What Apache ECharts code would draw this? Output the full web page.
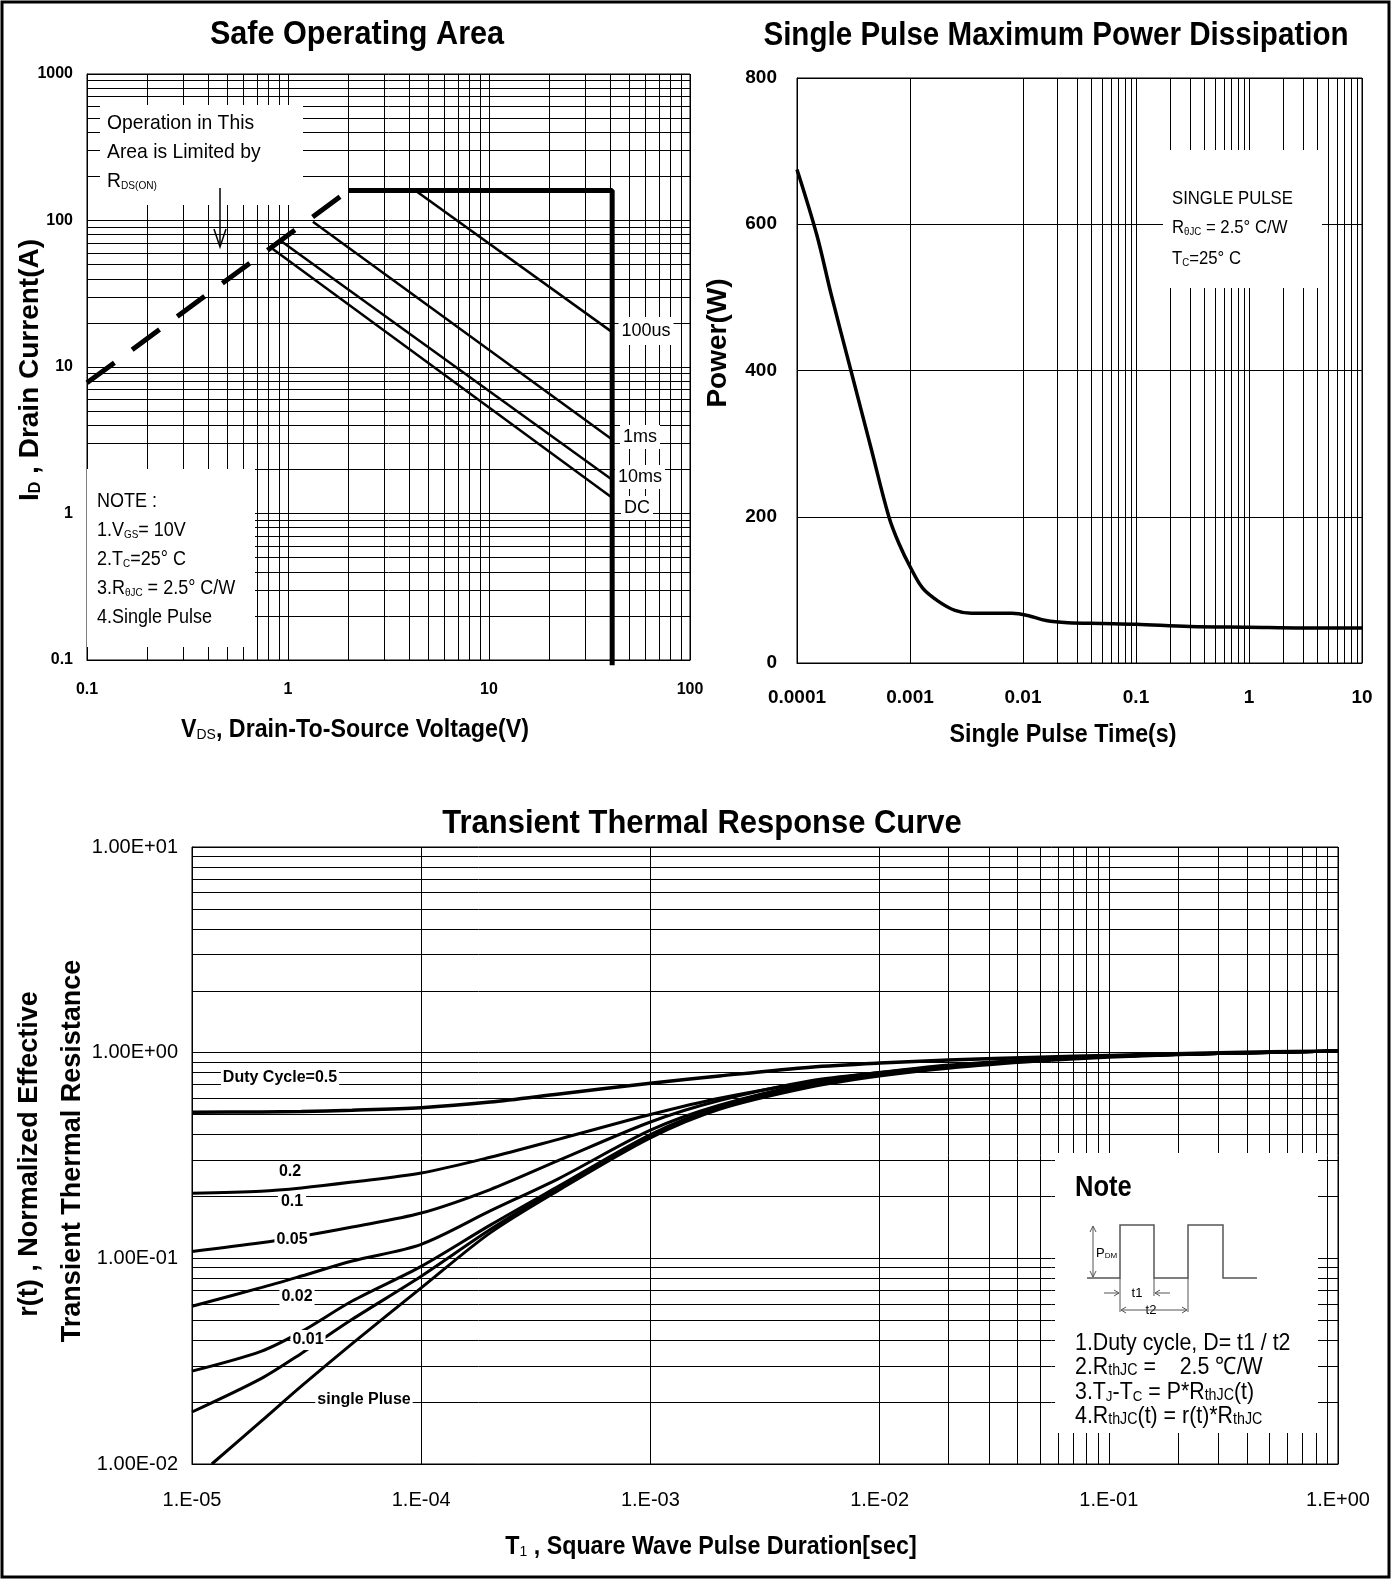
<!DOCTYPE html>
<html>
<head>
<meta charset="utf-8">
<script src="https://cdn.jsdelivr.net/npm/echarts@6/dist/echarts.min.js"></script>
<style>
  html, body { margin: 0; padding: 0; background: #fff; }
  #chart { width: 1392px; height: 1580px; }
</style>
</head>
<body>
<div id="chart"></div>
<script>
// ---- Safe Operating Area (V, A) ----
var soaRds = [[0.1, 7.8], [2.0, 160]];
var soaLimit = [[2.0, 160], [41, 160], [41, 0.092]];
var soa100us = [[4.3, 160], [41, 17.3]];
var soa1ms = [[1.33, 98], [41, 3.2]];
var soa10ms = [[0.93, 72], [41, 1.7]];
var soaDC = [[0.84, 64], [41, 1.28]];

// ---- Single pulse power (s, W) ----
var powerT = [1e-4, 1.5e-4, 2e-4, 3e-4, 4.5e-4, 6.5e-4, 8e-4, 1e-3, 1.3e-3, 1.8e-3, 2.5e-3, 3.5e-3, 5e-3, 8e-3, 1.1e-2, 1.6e-2, 2.5e-2, 5e-2, 0.1, 0.3, 1, 3, 10];
var powerW = [675, 585, 505, 400, 295, 200, 163, 132, 102, 84, 72, 68, 68, 68, 65, 58, 55, 54, 53, 50, 49, 48, 48];

// ---- Transient thermal response (s, r(t)) ----
var thermT = [1e-5, 2e-5, 3e-5, 5e-5, 1e-4, 2e-4, 4e-4, 1e-3, 2e-3, 5e-3, 1e-2, 2e-2, 5e-2, 1e-1, 3e-1, 1];
var duty05 = [0.513, 0.515, 0.518, 0.525, 0.54, 0.575, 0.63, 0.71, 0.77, 0.85, 0.89, 0.92, 0.95, 0.97, 1.0, 1.02];
var duty02 = [0.207, 0.212, 0.22, 0.235, 0.26, 0.31, 0.38, 0.50, 0.60, 0.72, 0.80, 0.87, 0.93, 0.96, 0.99, 1.02];
var duty01 = [0.108, 0.119, 0.128, 0.142, 0.166, 0.216, 0.30, 0.46, 0.585, 0.73, 0.80, 0.86, 0.92, 0.96, 0.99, 1.02];
var duty005 = [0.0585, 0.072, 0.082, 0.097, 0.117, 0.17, 0.245, 0.42, 0.555, 0.71, 0.79, 0.86, 0.92, 0.96, 0.99, 1.02];
var duty002 = [0.0283, 0.0353, 0.044, 0.062, 0.0914, 0.145, 0.225, 0.40, 0.545, 0.70, 0.785, 0.855, 0.92, 0.96, 0.99, 1.02];
var duty001 = [0.0179, 0.026, 0.0345, 0.0505, 0.0818, 0.138, 0.22, 0.39, 0.54, 0.69, 0.78, 0.85, 0.92, 0.96, 0.99, 1.02];
var singleT = [1.22e-5, 2e-5, 3e-5, 5e-5, 1e-4, 2e-4, 4e-4, 1e-3, 2e-3, 5e-3, 1e-2, 2e-2, 5e-2, 1e-1, 3e-1, 1];
var singleR = [0.01, 0.0161, 0.0239, 0.0385, 0.0718, 0.133, 0.215, 0.385, 0.53, 0.68, 0.77, 0.84, 0.91, 0.95, 0.99, 1.02];

var FONT = "'Liberation Sans Narrow','Arial Narrow','Liberation Sans',Arial,sans-serif";

function zip(xs, ys) {
  return xs.map(function (x, i) { return [x, ys[i]]; });
}

// 2..9 lines inside each decade
function minorVals(lo, hi) {
  var out = [];
  for (var d = lo; d < hi * 0.999; d *= 10) {
    for (var k = 2; k <= 9; k++) out.push(+(d * k).toPrecision(3));
  }
  return out;
}

function gridLines(xs, ys) {
  var data = [];
  xs.forEach(function (v) { data.push({ xAxis: v }); });
  ys.forEach(function (v) { data.push({ yAxis: v }); });
  return {
    silent: true,
    symbol: ['none', 'none'],
    label: { show: false },
    emphasis: { disabled: true },
    lineStyle: { type: 'solid', color: '#000', width: 1 },
    data: data
  };
}

function fmtPlain(v) { return String(+v.toPrecision(3)); }
function fmtE(v, digits) {
  var e = Math.round(Math.log10(v));
  var s = (e < 0 ? '-' : '+') + (Math.abs(e) < 10 ? '0' : '') + Math.abs(e);
  return digits ? '1.00E' + s : '1.E' + s;
}

function txt(x, y, text, o) {
  o = o || {};
  return {
    type: 'text', x: x, y: y, z: 100, rotation: o.rot || 0,
    scaleX: o.sx || 1, silent: true,
    style: {
      text: text,
      fill: '#000',
      fontSize: o.size || 18,
      fontFamily: FONT,
      fontWeight: o.weight || 'normal',
      align: o.align || 'left', textAlign: o.align || 'left',
      verticalAlign: 'middle', textVerticalAlign: 'middle',
      backgroundColor: o.bg,
      padding: o.pad,
      rich: o.rich
    }
  };
}
function box(x, y, w, h) {
  return { type: 'rect', z: 99, silent: true, shape: { x: x, y: y, width: w, height: h }, style: { fill: '#fff' } };
}
function poly(pts, w, c) {
  return { type: 'polyline', z: 101, silent: true, shape: { points: pts }, style: { stroke: c || '#000', lineWidth: w || 1, fill: null } };
}
function sub(size, weight) {
  return { fontSize: size, fontFamily: FONT, fontWeight: weight || 'normal', verticalAlign: 'bottom', lineHeight: 14 };
}
function base(size, weight) {
  return { fontSize: size, fontFamily: FONT, fontWeight: weight || 'normal' };
}

function lineSeries(xi, data, width, extra) {
  var s = {
    type: 'line', xAxisIndex: xi, yAxisIndex: xi, data: data,
    symbol: 'none', silent: true,
    lineStyle: { color: '#000', width: width }
  };
  for (var k in extra) s[k] = extra[k];
  return s;
}

function ax(o) {
  var a = {
    axisLine: { show: true, lineStyle: { color: '#000', width: 1 } },
    axisTick: { show: false },
    splitLine: { show: true, lineStyle: { color: '#000', width: 1 } }
  };
  for (var k in o) a[k] = o[k];
  return a;
}
function lbl(size, weight, margin, fmt) {
  return { formatter: fmt, color: '#000', fontSize: size, fontWeight: weight, fontFamily: FONT, margin: margin, showMinLabel: true, showMaxLabel: true };
}

var chart = echarts.init(document.getElementById('chart'), null, { renderer: 'canvas' });

var option = {
  animation: false,
  backgroundColor: '#fff',
  grid: [
    { left: 87, top: 74, width: 603, height: 586, show: true, borderColor: '#000', borderWidth: 1 },
    { left: 797, top: 78, width: 565, height: 585, show: true, borderColor: '#000', borderWidth: 1 },
    { left: 192, top: 847, width: 1146, height: 617, show: true, borderColor: '#000', borderWidth: 1 }
  ],
  xAxis: [
    ax({ type: 'log', logBase: 10, gridIndex: 0, min: 0.1, max: 100, axisLabel: lbl(16, 'bold', 22, fmtPlain) }),
    ax({ type: 'log', logBase: 10, gridIndex: 1, min: 0.0001, max: 10, axisLabel: lbl(19, 'bold', 25, fmtPlain) }),
    ax({ type: 'log', logBase: 10, gridIndex: 2, min: 0.00001, max: 1,
      axisLabel: lbl(20, 'normal', 26, function (v) { return fmtE(v, false); }) })
  ],
  yAxis: [
    ax({ type: 'log', logBase: 10, gridIndex: 0, min: 0.1, max: 1000, axisLabel: lbl(16, 'bold', 14, fmtPlain) }),
    ax({ type: 'value', gridIndex: 1, min: 0, max: 800, interval: 200, axisLabel: lbl(19, 'bold', 20) }),
    ax({ type: 'log', logBase: 10, gridIndex: 2, min: 0.01, max: 10,
      axisLabel: lbl(20, 'normal', 14, function (v) { return fmtE(v, true); }) })
  ],
  series: [
    // SOA
    lineSeries(0, soaRds, 5, { lineStyle: { color: '#000', width: 5, type: [34, 22] },
      markLine: gridLines(minorVals(0.1, 100), minorVals(0.1, 1000)) }),
    lineSeries(0, soaLimit, 5, { clip: false }),
    lineSeries(0, soa100us, 2.5),
    lineSeries(0, soa1ms, 2.5),
    lineSeries(0, soa10ms, 2.5),
    lineSeries(0, soaDC, 2.5),
    // Power
    lineSeries(1, zip(powerT, powerW), 3.5, { smooth: 0.35,
      markLine: gridLines(minorVals(0.0001, 10), []) }),
    // Transient
    lineSeries(2, zip(thermT, duty05), 3.5, { smooth: 0.3,
      markLine: gridLines(minorVals(0.00001, 1), minorVals(0.01, 10)) }),
    lineSeries(2, zip(thermT, duty02), 3, { smooth: 0.3 }),
    lineSeries(2, zip(thermT, duty01), 3, { smooth: 0.3 }),
    lineSeries(2, zip(thermT, duty005), 3, { smooth: 0.3 }),
    lineSeries(2, zip(thermT, duty002), 3, { smooth: 0.3 }),
    lineSeries(2, zip(thermT, duty001), 3, { smooth: 0.3 }),
    lineSeries(2, zip(singleT, singleR), 3, { smooth: 0.3 })
  ],
  graphic: { elements: [] }
};

var G = option.graphic.elements;

// frame
G.push({ type: 'rect', z: 120, silent: true, shape: { x: 2, y: 2, width: 1387, height: 1575 }, style: { fill: null, stroke: '#000', lineWidth: 3 } });

// titles
G.push(txt(357, 35, 'Safe Operating Area', { size: 34, weight: 'bold', align: 'center', sx: 0.9 }));
G.push(txt(1056, 36, 'Single Pulse Maximum Power Dissipation', { size: 34, weight: 'bold', align: 'center', sx: 0.87 }));
G.push(txt(702, 824, 'Transient Thermal Response Curve', { size: 34, weight: 'bold', align: 'center', sx: 0.91 }));

// axis titles
G.push(txt(30, 370, '{b|I}{s|D}{b| , Drain Current(A)}', { size: 28, weight: 'bold', align: 'center', rot: Math.PI / 2,
  rich: { b: base(28, 'bold'), s: sub(16, 'bold') } }));
G.push(txt(355, 730, '{b|V}{s|DS}{b|, Drain-To-Source Voltage(V)}', { size: 25, weight: 'bold', align: 'center', sx: 0.93,
  rich: { b: base(25, 'bold'), s: sub(15) } }));
G.push(txt(718, 343, 'Power(W)', { size: 28, weight: 'bold', align: 'center', rot: Math.PI / 2 }));
G.push(txt(1063, 735, 'Single Pulse Time(s)', { size: 25, weight: 'bold', align: 'center', sx: 0.93 }));
G.push(txt(711, 1547, '{b|T}{s|1}{b| , Square Wave Pulse Duration[sec]}', { size: 25, weight: 'bold', align: 'center', sx: 0.93,
  rich: { b: base(25, 'bold'), s: sub(15) } }));
G.push(txt(30, 1154, 'r(t) , Normalized Effective', { size: 27, weight: 'bold', align: 'center', rot: Math.PI / 2 }));
G.push(txt(73, 1151, 'Transient Thermal Resistance', { size: 27, weight: 'bold', align: 'center', rot: Math.PI / 2 }));

// SOA annotation: RDS(ON) limit
G.push(box(100, 105, 203, 100));
G.push(txt(107, 123, 'Operation in This', { size: 21, sx: 0.92 }));
G.push(txt(107, 152, 'Area is Limited by', { size: 21, sx: 0.92 }));
G.push(txt(107, 181, '{b|R}{s|DS(ON)}', { size: 21, sx: 0.92, rich: { b: base(21), s: sub(11) } }));
G.push(poly([[220, 188], [220, 246]], 1.5));
G.push(poly([[214, 229], [220, 247], [226, 229]], 1.5));

// SOA note
G.push(box(87, 469, 168, 178));
G.push(txt(97, 501, 'NOTE :', { size: 20, sx: 0.9 }));
G.push(txt(97, 530, '{b|1.V}{s|GS}{b|= 10V}', { size: 20, sx: 0.9, rich: { b: base(20), s: sub(11) } }));
G.push(txt(97, 559, '{b|2.T}{s|C}{b|=25° C}', { size: 20, sx: 0.9, rich: { b: base(20), s: sub(11) } }));
G.push(txt(97, 588, '{b|3.R}{s|θJC}{b| = 2.5° C/W}', { size: 20, sx: 0.9, rich: { b: base(20), s: sub(11) } }));
G.push(txt(97, 617, '4.Single Pulse', { size: 20, sx: 0.9 }));

// SOA curve labels
G.push(txt(646, 331, '100us', { size: 18, align: 'center', bg: '#fff', pad: [5, 3] }));
G.push(txt(640, 437, '1ms', { size: 18, align: 'center', bg: '#fff', pad: [3, 3] }));
G.push(txt(640, 477, '10ms', { size: 18, align: 'center', bg: '#fff', pad: [3, 3] }));
G.push(txt(637, 508, 'DC', { size: 18, align: 'center', bg: '#fff', pad: [3, 3] }));

// Power annotation
G.push(box(1163, 150, 159, 138));
G.push(txt(1172, 199, 'SINGLE PULSE', { size: 19, sx: 0.88 }));
G.push(txt(1172, 228, '{b|R}{s|θJC}{b| = 2.5° C/W}', { size: 19, sx: 0.88, rich: { b: base(19), s: sub(11) } }));
G.push(txt(1172, 259, '{b|T}{s|C}{b|=25° C}', { size: 19, sx: 0.88, rich: { b: base(19), s: sub(11) } }));

// Transient curve labels
G.push(txt(280, 1078, 'Duty Cycle=0.5', { size: 16, weight: 'bold', align: 'center', bg: '#fff', pad: [2, 2] }));
G.push(txt(290, 1172, '0.2', { size: 16, weight: 'bold', align: 'center', bg: '#fff', pad: [2, 3] }));
G.push(txt(292, 1202, '0.1', { size: 16, weight: 'bold', align: 'center', bg: '#fff', pad: [2, 3] }));
G.push(txt(292, 1240, '0.05', { size: 16, weight: 'bold', align: 'center', bg: '#fff', pad: [2, 2] }));
G.push(txt(297, 1297, '0.02', { size: 16, weight: 'bold', align: 'center', bg: '#fff', pad: [2, 2] }));
G.push(txt(308, 1340, '0.01', { size: 16, weight: 'bold', align: 'center', bg: '#fff', pad: [2, 2] }));
G.push(txt(364, 1400, 'single Pluse', { size: 16, weight: 'bold', align: 'center', bg: '#fff', pad: [2, 2] }));

// Transient note box
G.push(box(1055, 1153, 263, 280));
G.push(txt(1075, 1188, 'Note', { size: 29, weight: 'bold', sx: 0.88 }));
G.push(poly([[1087, 1278], [1120, 1278], [1120, 1225], [1154, 1225], [1154, 1278], [1188, 1278], [1188, 1225], [1223, 1225], [1223, 1278], [1257, 1278]], 1.5, '#555'));
G.push(poly([[1093, 1226], [1093, 1277]], 1, '#555'));
G.push(poly([[1090, 1232], [1093, 1226], [1096, 1232]], 1, '#555'));
G.push(poly([[1090, 1271], [1093, 1277], [1096, 1271]], 1, '#555'));
G.push(txt(1096, 1253, '{b|P}{s|DM}', { size: 13, rich: { b: base(13), s: sub(8) } }));
G.push(poly([[1120, 1278], [1120, 1312]], 1, '#555'));
G.push(poly([[1154, 1278], [1154, 1296]], 1, '#555'));
G.push(poly([[1188, 1278], [1188, 1312]], 1, '#555'));
G.push(poly([[1104, 1293], [1119, 1293]], 1, '#555'));
G.push(poly([[1114, 1290], [1119, 1293], [1114, 1296]], 1, '#555'));
G.push(poly([[1155, 1293], [1170, 1293]], 1, '#555'));
G.push(poly([[1160, 1290], [1155, 1293], [1160, 1296]], 1, '#555'));
G.push(txt(1137, 1293, 't1', { size: 13, align: 'center' }));
G.push(poly([[1121, 1310], [1187, 1310]], 1, '#555'));
G.push(poly([[1126, 1307], [1121, 1310], [1126, 1313]], 1, '#555'));
G.push(poly([[1182, 1307], [1187, 1310], [1182, 1313]], 1, '#555'));
G.push(txt(1151, 1310, 't2', { size: 13, align: 'center', bg: '#fff', pad: [0, 3] }));
G.push(txt(1075, 1343, '1.Duty cycle, D= t1 / t2', { size: 24, sx: 0.89 }));
G.push(txt(1075, 1367, '{b|2.R}{m|thJC}{b| =    2.5 ℃/W}', { size: 24, sx: 0.89, rich: { b: base(24), m: sub(16) } }));
G.push(txt(1075, 1392, '{b|3.T}{s|J}{b|-T}{s|C}{b| = P*R}{m|thJC}{b|(t)}', { size: 24, sx: 0.89, rich: { b: base(24), s: sub(15), m: sub(16) } }));
G.push(txt(1075, 1416, '{b|4.R}{m|thJC}{b|(t) = r(t)*R}{m|thJC}', { size: 24, sx: 0.89, rich: { b: base(24), m: sub(16) } }));

chart.setOption(option);
window.addEventListener('resize', function () { chart.resize(); });
</script>
</body>
</html>
